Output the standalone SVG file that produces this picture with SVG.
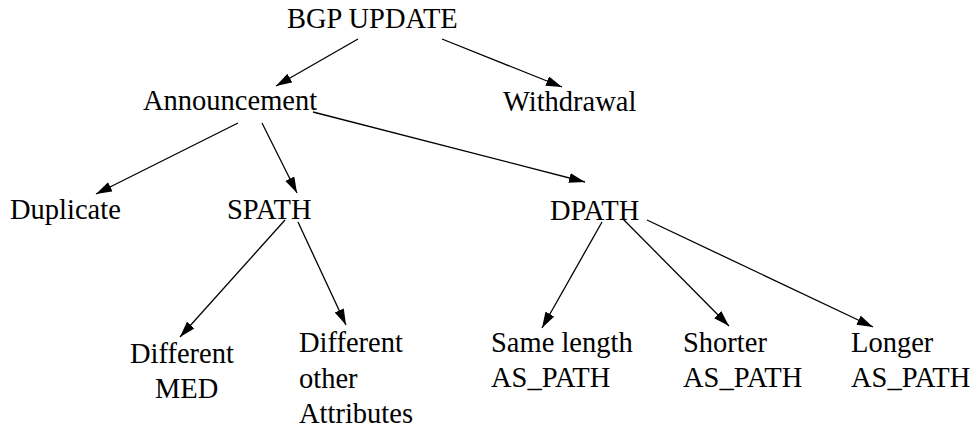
<svg xmlns="http://www.w3.org/2000/svg" width="980" height="428" viewBox="0 0 980 428">
<style>
text{font-size:28.5px;fill:#000}
.e{stroke:#000;stroke-width:1.3;fill:none;marker-end:url(#ah)}
</style>
<defs>
<marker id="ah" markerUnits="userSpaceOnUse" markerWidth="17" markerHeight="11" refX="16" refY="5" orient="auto" viewBox="0 0 17 11">
<path d="M0,0 L16,5 L0,10 Z" fill="#000"/>
</marker>
</defs>
<rect width="980" height="428" fill="#fff"/>
<g id="connectors">
<line class="e" x1="358" y1="39" x2="276" y2="86"/>
<line class="e" x1="442" y1="39" x2="562" y2="87"/>
<line class="e" x1="238" y1="123" x2="96" y2="194"/>
<line class="e" x1="262" y1="123" x2="297" y2="193"/>
<line class="e" x1="313" y1="112" x2="585" y2="182"/>
<line class="e" x1="285" y1="220" x2="180" y2="337"/>
<line class="e" x1="298" y1="222" x2="346" y2="325"/>
<line class="e" x1="602" y1="222" x2="542" y2="328"/>
<line class="e" x1="623" y1="219" x2="729" y2="326"/>
<line class="e" x1="647" y1="220" x2="873" y2="327"/>
</g>
<g font-family="'Liberation Serif', 'Times New Roman', 'DejaVu Serif', serif">
<g id="bgp"><text x="287" y="28">BGP UPDATE</text></g>
<g id="announcement"><text x="143" y="110">Announcement</text></g>
<g id="withdrawal"><text x="503" y="111">Withdrawal</text></g>
<g id="duplicate"><text x="10" y="219">Duplicate</text></g>
<g id="spath"><text x="227" y="219">SPATH</text></g>
<g id="dpath"><text x="550" y="220">DPATH</text></g>
<g id="diffmed"><text x="130" y="363">Different</text><text x="155" y="398">MED</text></g>
<g id="diffother"><text x="299" y="352">Different</text><text x="299" y="388">other</text><text x="299" y="423">Attributes</text></g>
<g id="samelen"><text x="491" y="352">Same length</text><text x="491" y="387">AS_PATH</text></g>
<g id="shorter"><text x="683" y="352">Shorter</text><text x="683" y="387">AS_PATH</text></g>
<g id="longer"><text x="851" y="352">Longer</text><text x="851" y="387">AS_PATH</text></g>
</g>
</svg>
